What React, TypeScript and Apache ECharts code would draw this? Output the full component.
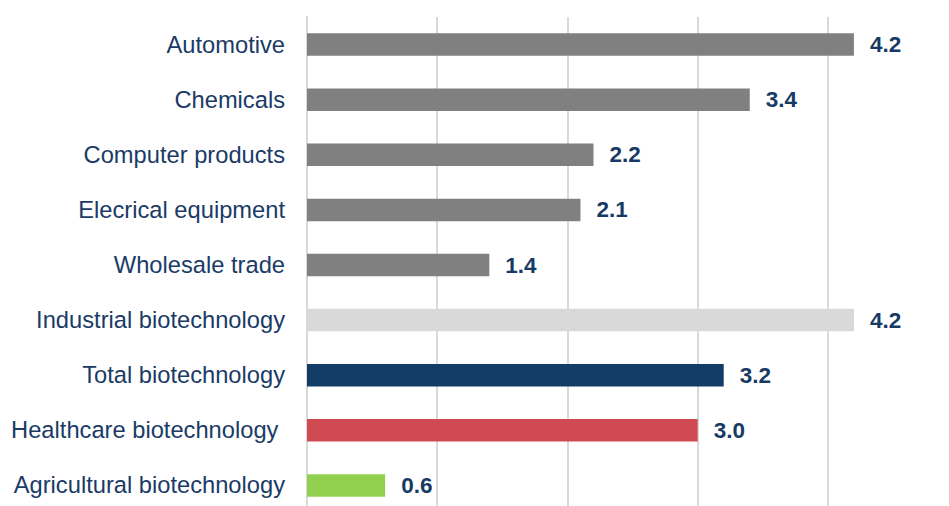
import React, { useEffect, useRef } from "react";
import * as echarts from "echarts";

const categories = [
  "Automotive",
  "Chemicals",
  "Computer products",
  "Elecrical equipment",
  "Wholesale trade",
  "Industrial biotechnology",
  "Total biotechnology",
  "Healthcare biotechnology ",
  "Agricultural biotechnology",
];

const values = [4.2, 3.4, 2.2, 2.1, 1.4, 4.2, 3.2, 3.0, 0.6];

const barColors = [
  "#808080",
  "#808080",
  "#808080",
  "#808080",
  "#808080",
  "#d9d9d9",
  "#123d66",
  "#cf4a53",
  "#92d050",
];

export default function App() {
  const ref = useRef<HTMLDivElement>(null);

  useEffect(() => {
    if (!ref.current) return;
    document.body.style.overflow = "hidden";
    const chart = echarts.init(ref.current, undefined, { renderer: "svg" });
    chart.setOption({
      animation: false,
      backgroundColor: "#ffffff",
      grid: { left: 307, right: 56, top: 17, bottom: 0, containLabel: false },
      xAxis: {
        type: "value",
        min: 0,
        max: 4.5,
        interval: 1,
        axisLabel: { show: false },
        axisLine: { show: false },
        axisTick: { show: false },
        splitLine: {
          show: true,
          showMinLine: false,
          showMaxLine: false,
          lineStyle: { color: "#d9d9d9", width: 2 },
        },
      },
      yAxis: {
        type: "category",
        inverse: true,
        data: categories,
        axisTick: { show: false },
        axisLine: { show: true, lineStyle: { color: "#d9d9d9", width: 2 } },
        axisLabel: {
          margin: 22,
          color: "#1a3b66",
          fontSize: 23.7,
          fontFamily: "'Liberation Sans', Arial, sans-serif",
        },
        splitLine: { show: false },
      },
      series: [
        {
          type: "bar",
          barWidth: 22.5,
          data: values.map((v, i) => ({ value: v, itemStyle: { color: barColors[i] } })),
          label: {
            show: true,
            position: "right",
            distance: 16,
            formatter: (p: any) => Number(p.value).toFixed(1),
            color: "#163a63",
            fontWeight: "bold",
            fontSize: 22.5,
            fontFamily: "'Liberation Sans', Arial, sans-serif",
          },
        },
      ],
    });
    return () => chart.dispose();
  }, []);

  return (
    <div
      ref={ref}
      style={{ position: "fixed", left: 0, top: 0, width: 949, height: 513 }}
    />
  );
}
